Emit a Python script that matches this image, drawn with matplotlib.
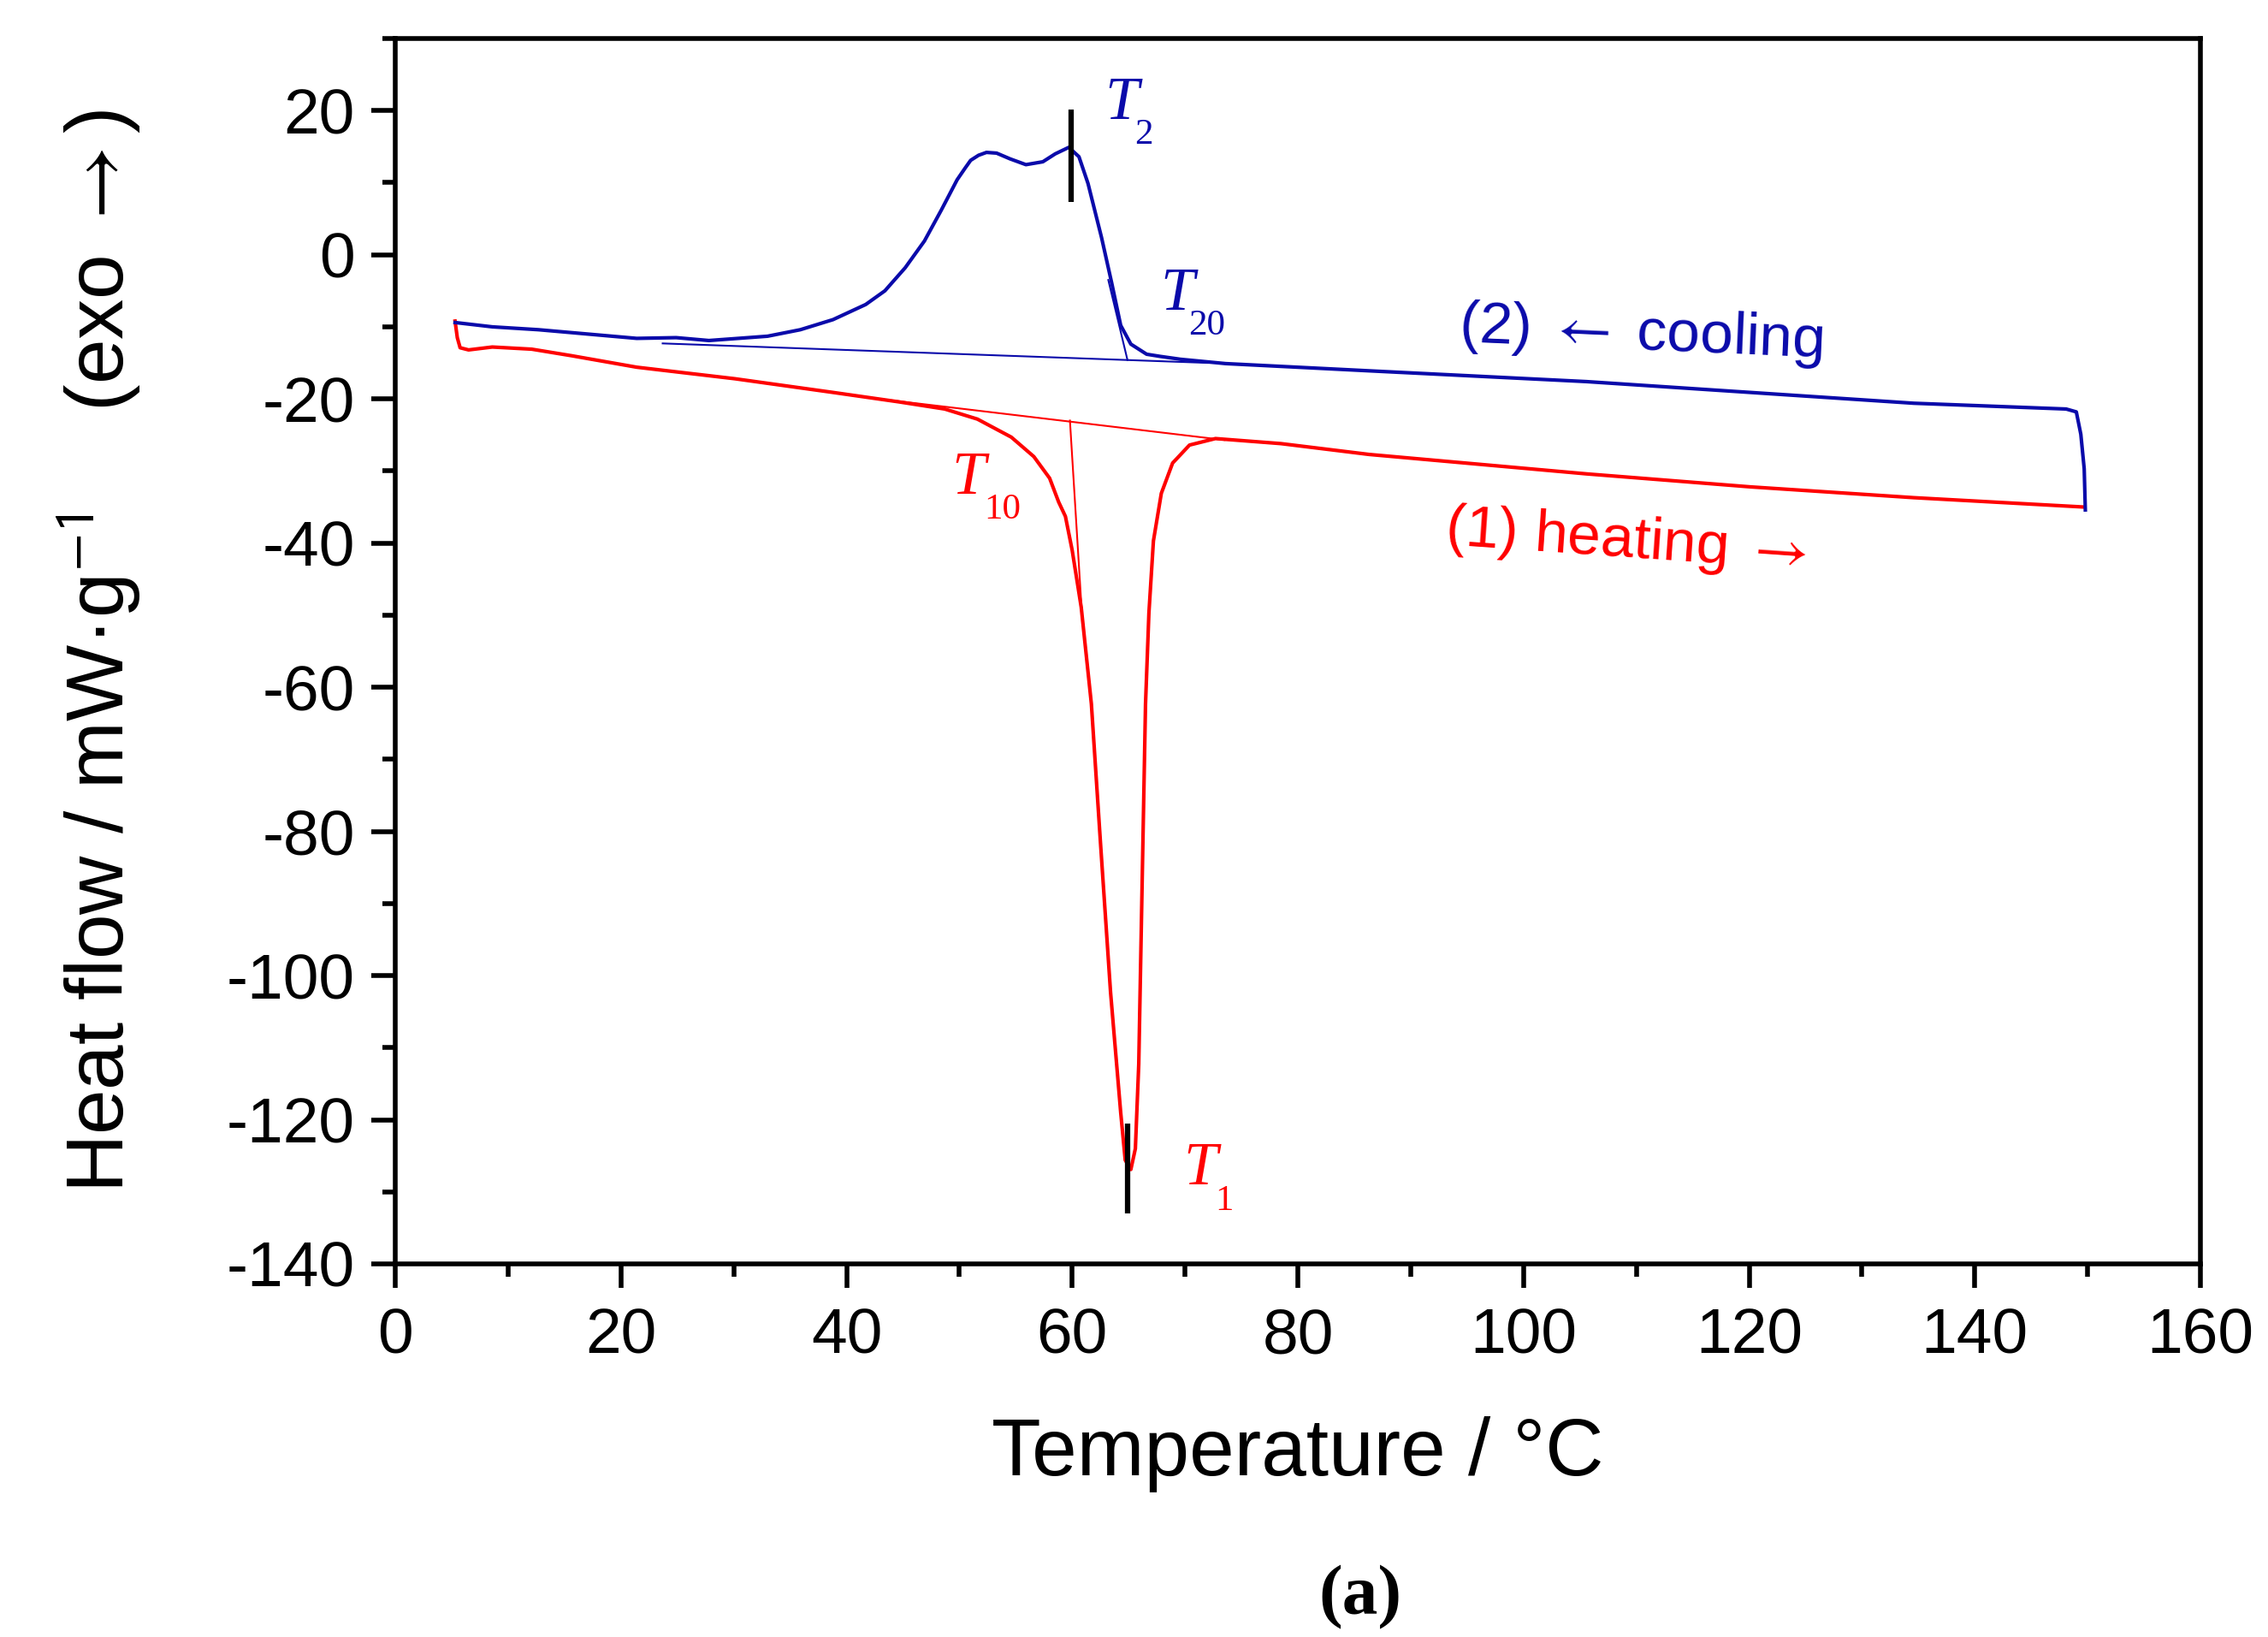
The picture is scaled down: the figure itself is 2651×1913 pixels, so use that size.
import matplotlib
matplotlib.use("Agg")
import matplotlib.pyplot as plt
from matplotlib.ticker import MultipleLocator

# DSC curve, cooling run (read from 150 °C down to 5 °C)
cool_T = [149.8, 149.7, 149.4, 149.0, 148.1, 134.6, 120.1, 105.6, 86.3, 73.6,
          69.6, 67.8, 66.6, 65.2, 64.3, 63.5, 62.6, 61.4, 60.6, 59.7,
          58.5, 57.4, 55.9, 54.5, 53.3, 52.4, 51.7, 51.0, 50.5, 49.8,
          48.4, 46.9, 45.2, 43.4, 41.7, 38.8, 35.9, 33.0, 27.8, 24.9,
          21.4, 12.7, 8.6, 5.3]
cool_q = [-35.4, -29.7, -24.9, -21.8, -21.4, -20.6, -19.1, -17.6, -16.1, -15.1,
          -14.5, -14.1, -13.8, -12.4, -9.8, -3.9, 2.4, 9.9, 13.6, 14.9,
          14.0, 12.9, 12.5, 13.3, 14.1, 14.2, 13.8, 13.1, 12.0, 10.4,
          6.2, 1.9, -1.8, -5.0, -6.9, -9.0, -10.4, -11.3, -11.9, -11.5,
          -11.6, -10.4, -10.0, -9.4]

# DSC curve, heating run (5 °C up to 150 °C)
heat_T = [5.3, 5.5, 5.75, 6.5, 8.6, 12.1, 15.6, 21.4, 30.1, 38.8,
          44.6, 48.7, 51.6, 54.6, 56.6, 58.0, 58.8, 59.4, 60.0, 60.8,
          61.7, 62.5, 63.4, 64.3, 64.7, 65.2, 65.6, 65.9, 66.2, 66.5,
          66.8, 67.2, 67.9, 68.9, 70.4, 72.7, 78.5, 86.3, 105.6, 120.1,
          134.6, 149.7]
heat_q = [-9.2, -11.5, -12.9, -13.2, -12.8, -13.1, -14.0, -15.6, -17.2, -19.1,
          -20.4, -21.4, -22.8, -25.3, -28.0, -31.0, -34.3, -36.3, -41.0, -48.9,
          -62.3, -81.4, -102.3, -119.0, -125.6, -126.9, -124.0, -112.3, -87.2, -62.3,
          -49.7, -39.7, -33.1, -28.9, -26.4, -25.5, -26.2, -27.7, -30.4, -32.2,
          -33.7, -35.0]

# construction lines (baselines and onset tangents)
cool_base_T = [23.7, 72.0]
cool_base_q = [-12.3, -15.0]
cool_tan_T = [64.9, 63.2]
cool_tan_q = [-14.6, -3.5]
heat_base_T = [44.0, 73.5]
heat_base_q = [-20.2, -25.7]
heat_tan_T = [59.8, 60.85]
heat_tan_q = [-23.0, -49.5]

# peak markers
T2_x, T2_y = [59.9, 59.9], [7.3, 20.2]
T1_x, T1_y = [64.9, 64.9], [-120.5, -133.0]

BLUE = "#0A0AAA"
RED = "#FF0000"

plt.rcParams["font.family"] = ["Liberation Sans", "DejaVu Sans"]
plt.rcParams["mathtext.fontset"] = "custom"
plt.rcParams["mathtext.rm"] = "Liberation Sans"
plt.rcParams["mathtext.it"] = "Liberation Sans:italic"
plt.rcParams["axes.unicode_minus"] = False

W, H = 2651, 1913
fig = plt.figure(figsize=(W / 100, H / 100), dpi=100)
ax = fig.add_axes([462 / W, 1 - 1477 / H, 2110 / W, 1432 / H])

ax.plot(heat_T, heat_q, color=RED, lw=3.0)
ax.plot(cool_T, cool_q, color=BLUE, lw=3.0)
ax.plot(heat_base_T, heat_base_q, color=RED, lw=1.5)
ax.plot(heat_tan_T, heat_tan_q, color=RED, lw=1.5)
ax.plot(cool_base_T, cool_base_q, color=BLUE, lw=1.5)
ax.plot(cool_tan_T, cool_tan_q, color=BLUE, lw=1.5)
ax.plot(T2_x, T2_y, color="black", lw=4.5, solid_capstyle="butt")
ax.plot(T1_x, T1_y, color="black", lw=4.5, solid_capstyle="butt")

ax.set_xlim(0, 160)
ax.set_ylim(-140, 30)
ax.xaxis.set_major_locator(MultipleLocator(20))
ax.xaxis.set_minor_locator(MultipleLocator(10))
ax.yaxis.set_major_locator(MultipleLocator(20))
ax.yaxis.set_minor_locator(MultipleLocator(10))
ax.tick_params(which="both", direction="out", width=4.0, top=False, right=False)
ax.tick_params(which="major", length=20, labelsize=54, pad=14)
ax.tick_params(which="minor", length=11)
ax.tick_params(axis="x", which="major", pad=16)
for s in ax.spines.values():
    s.set_linewidth(4.0)

ax.set_xlabel("Temperature / °C", fontsize=68)
ax.xaxis.set_label_coords(0.5, -0.124)
ax.set_ylabel(r"Heat flow / mW·g$^{\mathsf{-1}}$    (exo $\rightarrow$)", fontsize=68,
              math_fontfamily="stix")
ax.yaxis.set_label_coords((167 - 462) / 2110, 0.50)

# T labels: italic T with roman subscript
def tlabel(x, y, sx, sy, sub, color):
    ax.text(x, y, "T", color=color, fontsize=51, family="Liberation Serif",
            style="italic", ha="left", va="baseline")
    ax.text(sx, sy, sub, color=color, fontsize=31, family="Liberation Serif",
            ha="left", va="baseline")

tlabel(62.9, 18.9, 65.5, 15.45, "2", BLUE)
tlabel(67.8, -7.65, 70.3, -11.1, "20", BLUE)
tlabel(49.3, -33.1, 52.2, -36.6, "10", RED)
tlabel(69.9, -129.0, 72.7, -132.5, "1", RED)

ax.text(94.2, -12.0, r"(2) $\leftarrow$ cooling", color=BLUE, fontsize=50,
        math_fontfamily="stix",
        rotation=-2.5, rotation_mode="anchor", ha="left", va="baseline")
ax.text(93.0, -40.2, r"(1) heating $\rightarrow$", color=RED, fontsize=50,
        math_fontfamily="stix",
        rotation=-4, rotation_mode="anchor", ha="left", va="baseline")

fig.text(1590 / W, 1 - 1886 / H, "(a)", fontsize=60, family="Liberation Serif",
         weight="bold", ha="center", va="baseline")

fig.savefig("out.png", dpi=100)
